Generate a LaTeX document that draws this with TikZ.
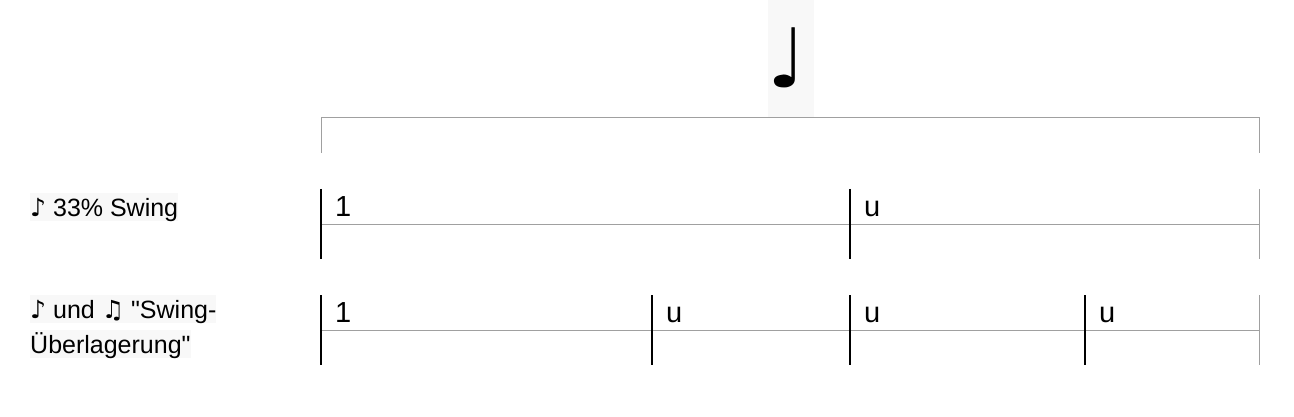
\documentclass[tikz,border=0pt]{standalone}
\usepackage{fontspec}
\setmainfont{Liberation Sans}[Ligatures=TeXOff]
\newfontfamily\symfont{DejaVu Sans}
\definecolor{linegray}{RGB}{160,160,160}
\definecolor{bggray}{RGB}{248,248,248}
\begin{document}
\begin{tikzpicture}[x=1pt,y=-1pt,
  lbl/.style={anchor=base west, inner sep=0pt, fill=bggray,
    font=\fontsize{25}{29}\selectfont, text height=22.6pt, text depth=5.3pt},
  cell/.style={anchor=base west, inner sep=0pt, font=\fontsize{29}{34}\selectfont},
  gridline/.style={draw=linegray, line width=1pt},
  divider/.style={draw=black, line width=1.3pt},
  enddivider/.style={draw=linegray, line width=1pt}]
\useasboundingbox (0,0) rectangle (1294,417);

% quarter note header
\node[fill=bggray, inner sep=0pt, minimum width=46pt, minimum height=117pt,
  anchor=north west] (notebg) at (768,0) {};
\node[inner sep=0pt, font=\symfont\fontsize{82}{90}\selectfont] (note) at (787,58) {♩};

% coordinates
\foreach \n/\x in {a/321,b/652,c/850,d/1085,e/1259}{
  \coordinate (T\n) at (\x,118);
  \coordinate (Tb\n) at (\x,153);
  \coordinate (A\n) at (\x,189);
  \coordinate (Am\n) at (\x,224);
  \coordinate (Ab\n) at (\x,259);
  \coordinate (B\n) at (\x,295);
  \coordinate (Bm\n) at (\x,330);
  \coordinate (Bb\n) at (\x,365);
}

% top frame
\draw[gridline] (Tba) -- (Ta) -- (Te) -- (Tbe);

% row 1
\draw[gridline] (Ama) -- (Ame);
\draw[divider] (Aa) -- (Aba);
\draw[divider] (Ac) -- (Abc);
\draw[enddivider] (Ae) -- (Abe);

% row 2
\draw[gridline] (Bma) -- (Bme);
\draw[divider] (Ba) -- (Bba);
\draw[divider] (Bb) -- (Bbb);
\draw[divider] (Bc) -- (Bbc);
\draw[divider] (Bd) -- (Bbd);
\draw[enddivider] (Be) -- (Bbe);

% cell labels
\node[cell] (c11) at (335,216) {1};
\node[cell] (c12) at (864,216) {u};
\node[cell] (c21) at (335,322) {1};
\node[cell] (c22) at (666,322) {u};
\node[cell] (c23) at (864,322) {u};
\node[cell] (c24) at (1099,322) {u};

% row labels
\node[lbl] (l1) at (30,216) {{\symfont ♪} 33\% Swing};
\node[lbl] (l2a) at (30,318) {{\symfont ♪} und {\symfont ♫} "Swing-};
\node[lbl] (l2b) at (30,353) {Überlagerung"};
\end{tikzpicture}
\end{document}
